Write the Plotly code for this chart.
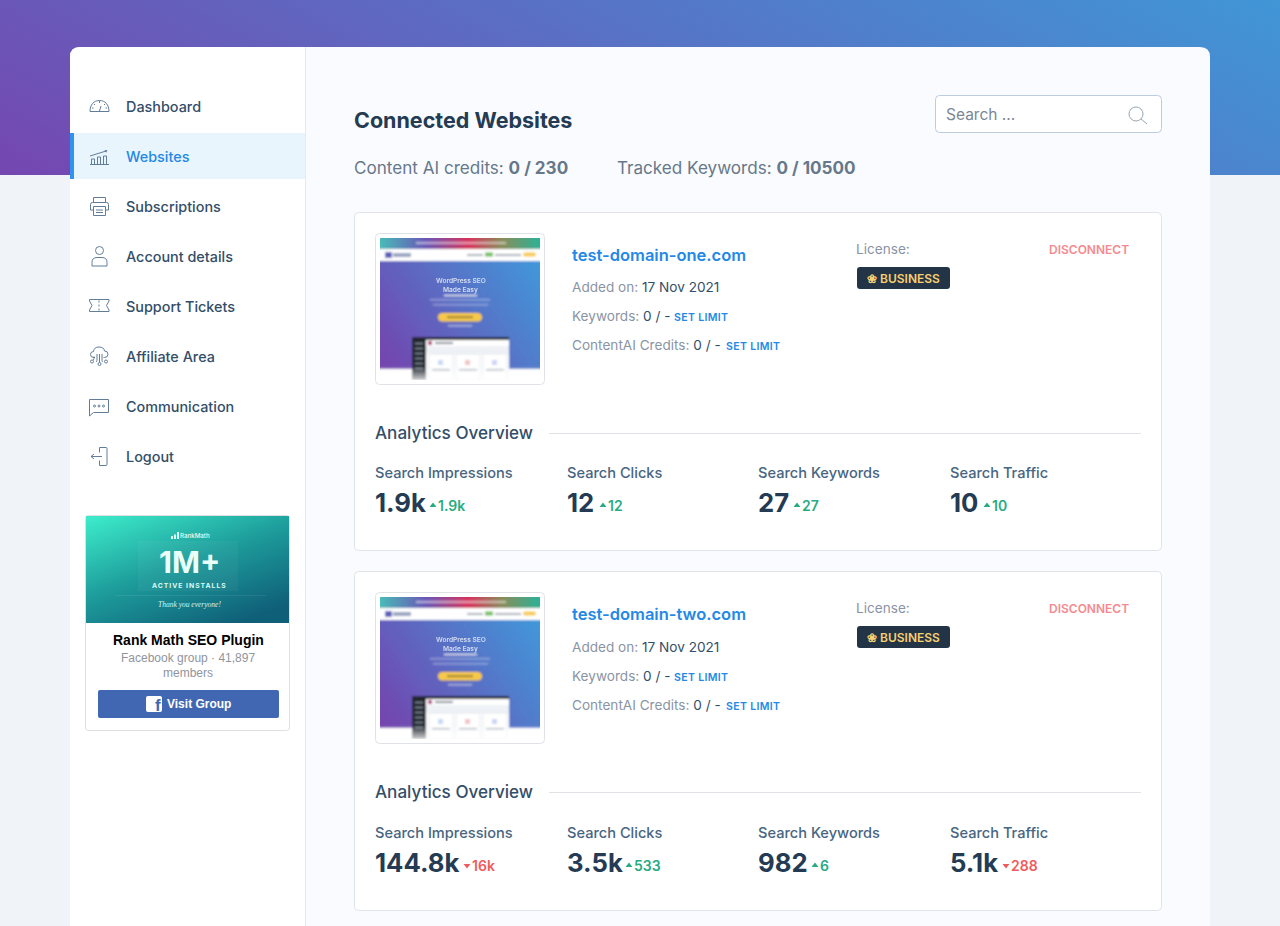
import base64
import plotly.graph_objects as go

# page text and numbers
MENU_LABELS = ["Dashboard", "Websites", "Subscriptions", "Account details",
               "Support Tickets", "Affiliate Area", "Communication", "Logout"]
ACTIVE_MENU = "Websites"
PAGE_TITLE = "Connected Websites"
CREDITS_LABELS = ["Content AI credits:", "Tracked Keywords:"]
CREDITS_VALUES = ["0 / 230", "0 / 10500"]
SITE_NAMES = ["test-domain-one.com", "test-domain-two.com"]
ADDED_ON = ["17 Nov 2021", "17 Nov 2021"]
KEYWORDS = ["0 / -", "0 / -"]
CONTENT_AI = ["0 / -", "0 / -"]
METRIC_LABELS = ["Search Impressions", "Search Clicks", "Search Keywords", "Search Traffic"]
SITE_VALUES = [["1.9k", "12", "27", "10"], ["144.8k", "3.5k", "982", "5.1k"]]
SITE_DELTAS = [["1.9k", "12", "27", "10"], ["16k", "533", "6", "288"]]
SITE_RISING = [[True, True, True, True], [False, True, True, False]]

FONT = "Inter"
NAVY = "#243b53"
SLATE = "#486581"
GREY = "#8a94a3"
BLUE = "#2388e6"
GREEN = "#27ab83"
RED = "#ef5b5b"
LINE = "#e0e4ea"
ICON = "#627d98"

fig = go.Figure()


def rounded(x0, y0, x1, y1, r):
    return (f"M{x0+r},{y0} L{x1-r},{y0} Q{x1},{y0} {x1},{y0+r} L{x1},{y1-r} Q{x1},{y1} {x1-r},{y1} "
            f"L{x0+r},{y1} Q{x0},{y1} {x0},{y1-r} L{x0},{y0+r} Q{x0},{y0} {x0+r},{y0} Z")


def box(x0, y0, x1, y1, fill, border=None, r=0, layer="below"):
    fig.add_shape(type="path", path=rounded(x0, y0, x1, y1, r) if r else f"M{x0},{y0} L{x1},{y0} L{x1},{y1} L{x0},{y1} Z",
                  xref="x", yref="y", fillcolor=fill, layer=layer,
                  line=dict(color=border, width=1) if border else dict(width=0))


def label(x, y, s, size, color, weight=400, anchor="left", family=FONT, opacity=1):
    fig.add_annotation(x=x, y=y, xref="x", yref="y", text=s, showarrow=False, xanchor=anchor,
                       yanchor="middle", borderpad=0, borderwidth=0, opacity=opacity,
                       font=dict(family=family, size=size, color=color, weight=weight))


def picture(body, x, y, w, h, layer="above"):
    svg = (f'<svg xmlns="http://www.w3.org/2000/svg" width="{w}" height="{h}" viewBox="0 0 {w} {h}">'
           f'{body}</svg>')
    uri = "data:image/svg+xml;base64," + base64.b64encode(svg.encode()).decode()
    fig.add_layout_image(source=uri, xref="x", yref="y", x=x, y=y, sizex=w, sizey=h,
                         xanchor="left", yanchor="top", sizing="stretch", layer=layer)


# page background, on paper so that it stays under the panel shapes
header = ('<svg xmlns="http://www.w3.org/2000/svg" width="1280" height="175" viewBox="0 0 1280 175">'
          '<defs><linearGradient id="g" gradientUnits="userSpaceOnUse" x1="0" y1="175" x2="370" y2="-499">'
          '<stop offset="0" stop-color="#7547b0"/><stop offset="1" stop-color="#4096d6"/></linearGradient></defs>'
          '<rect width="1280" height="175" fill="url(#g)"/></svg>')
fig.add_layout_image(source="data:image/svg+xml;base64," + base64.b64encode(header.encode()).decode(),
                     xref="paper", yref="paper", x=0, y=1, sizex=1, sizey=175 / 926,
                     xanchor="left", yanchor="top", sizing="stretch", layer="below")

# main panel and sidebar
box(70, 47, 1210, 1000, "#fafbfe", r=10)
fig.add_shape(type="path", path="M80,47 L305,47 L305,1000 L70,1000 L70,57 Q70,47 80,47 Z",
              xref="x", yref="y", fillcolor="#ffffff", line=dict(width=0), layer="below")
box(305, 47, 306, 1000, "#e6eaf0")

# sidebar menu
MENU_Y = [107 + 50 * i for i in range(len(MENU_LABELS))]
for name, y in zip(MENU_LABELS, MENU_Y):
    active = name == ACTIVE_MENU
    if active:
        box(70, y - 24, 305, y + 22, "#e8f5fd")
        box(70, y - 24, 74, y + 22, "#2e94f0")
    label(125.7, y - 0.5, name, 14.4, BLUE if active else "#334e68", 500)

# sidebar icons, one small drawing per menu row
st = f'fill="none" stroke="{ICON}" stroke-width="1"'
ICONS = [
    f'<g {st}><path d="M1 15.5C1 8.5 5 4.5 10.5 4.5S20 8.5 20 15.5Z"/><path d="M10.5 5v2M5 8l1 1M16 8l-1 1M3 12h1.5M18 12h-1.5M10.5 15l1.5-5"/></g>',
    f'<g {st}><path d="M1 18.5h19M2.5 18v-5h3v5M8.5 18v-7h3v7M14.5 18v-8h3v8M1 10l16-5"/></g><path d="M15.5 4l3 .3-1.4 2.4z" fill="{ICON}"/>',
    f'<g {st}><path d="M4.5 6.5V1.5h12v5M1.5 14V8.5q0-2 2-2h14q2 0 2 2V14h-3M4.5 14h-3M4.5 10.5h12V19.5h-12ZM7 14h7M7 16.5h7"/></g>',
    f'<g {st}><circle cx="10.5" cy="4.5" r="4"/><path d="M3 20v-3.5q0-5 5-5h5q5 0 5 5V20Z"/></g>',
    f'<g {st}><path d="M.5 3.5h19.5v1.5l-2.500 4.500 2.500 4.500v1.500H.5v-1.500l2.500-4.500-2.500-4.500ZM10 4.500v2M10 8.500v2M10 12.500v2"/></g>',
    f'<g {st}><path d="M5 11.500q-3.500 0-3.500-3t3-3q.5-4.500 5.500-4.500t5.500 4q3.500 0 3.500 3.200t-3.500 3.300h-1M5 11.500h1M8 8v6.500q0 1-1 1.500M10.500 8v8.500M13 8v6.500q0 1 1 1.500M5 10.500v2q0 1-1 1.500"/><circle cx="3" cy="15.500" r="1.500"/><circle cx="10.500" cy="18" r="1.500"/><circle cx="17" cy="15.500" r="1.500"/></g>',
    f'<g {st}><path d="M.5 3.500h19v13h-15l-4 3.500Z"/><circle cx="5.500" cy="10" r="1"/><circle cx="10" cy="10" r="1"/><circle cx="14.500" cy="10" r="1"/></g>',
    f'<g {st}><path d="M10.500 6.500V1.500h6.500q1 0 1 1v16q0 1-1 1h-6.500v-5M2 10.500h11M2 10.500l3-2.500M2 10.500l3 2.500"/></g>',
]
ICON_Y = [y - 11 for y in MENU_Y]
for art, y in zip(ICONS, ICON_Y):
    picture(art, 89, y, 21, 21)

# facebook box
box(85.5, 515.5, 289.5, 730.5, "#ffffff", "#dddfe2", r=3)
picture('<defs><linearGradient id="b" x1="0.05" y1="0" x2="0.75" y2="1">'
        '<stop offset="0" stop-color="#3ceac9"/><stop offset="0.5" stop-color="#1d9c9b"/>'
        '<stop offset="1" stop-color="#0f5f78"/></linearGradient></defs>'
        '<rect width="203" height="107" fill="url(#b)"/>'
        '<rect x="52" y="25" width="100" height="50" fill="#ffffff" opacity="0.04"/>'
        '<rect x="30" y="79" width="150" height="1" fill="#ffffff" opacity="0.08"/>', 86, 516, 203, 107)
label(195, 535.5, "RankMath", 6.2, "#e6fff8", 500, "center")
picture('<path d="M0 7V4h2v3zM3 7V2.500h2V7zM6 7V0h2v7z" fill="#d9fff5"/>', 171, 532, 8, 7)
label(189, 562, "1M+", 30, "#eafff9", 700, "center")
label(189, 585, "<span style='letter-spacing:1px'>ACTIVE INSTALLS</span>", 6.8, "#dcfbf3", 700, "center")
label(189, 604, "<i>Thank you everyone!</i>", 7.5, "#d6f3ee", 400, "center", "Liberation Serif")
label(188, 640, "Rank Math SEO Plugin", 14, "#000000", 700, "center", "Liberation Sans")
label(188, 658, "Facebook group · 41,897", 12, "#90949c", 400, "center", "Liberation Sans")
label(188, 673, "members", 12, "#90949c", 400, "center", "Liberation Sans")
box(98, 690, 279, 718, "#4267b2", r=2)
box(146, 696, 162, 712, "#ffffff", r=2)
label(157.5, 705.5, "f", 17, "#4267b2", 700, "center", "Liberation Sans")
label(166.5, 704, "Visit Group", 12, "#ffffff", 700, "left", "Liberation Sans")

# header of the content area
label(354, 119.5, PAGE_TITLE, 21.5, NAVY, 700)
box(935.5, 95.5, 1161.5, 132.5, "#ffffff", "#bcccdc", r=4)
label(946, 114, "Search ...", 15.5, "#7b8794")
picture('<circle cx="8" cy="8" r="7" fill="none" stroke="#9aa5b1"/><path d="M13 13l6 5" stroke="#9aa5b1" fill="none"/>',
        1128, 106, 20, 20)
for x, name, value in zip([354, 617], CREDITS_LABELS, CREDITS_VALUES):
    label(x, 167, f"{name} <b>{value}</b>", 17.1, "#66788a", 400)

# thumbnail of the landing page, blurred like the screenshot it stands for
THUMB = (
    '<defs><filter id="s" x="-5%" y="-5%" width="110%" height="110%"><feGaussianBlur stdDeviation="0.8"/></filter>'
    '<linearGradient id="t" x1="0" y1="0" x2="1" y2="0"><stop offset="0" stop-color="#45c4b8"/>'
    '<stop offset="0.3" stop-color="#6a56b6"/><stop offset="0.55" stop-color="#d8325c"/>'
    '<stop offset="0.75" stop-color="#8a8d5a"/><stop offset="1" stop-color="#22b59c"/></linearGradient>'
    '<linearGradient id="h" gradientUnits="userSpaceOnUse" x1="0" y1="131" x2="160" y2="23">'
    '<stop offset="0" stop-color="#7542ad"/><stop offset="1" stop-color="#4098da"/></linearGradient>'
    '<linearGradient id="f" x1="0" y1="0" x2="0" y2="1"><stop offset="0" stop-color="#ffffff" stop-opacity="0"/>'
    '<stop offset="1" stop-color="#ffffff"/></linearGradient></defs>'
    '<g filter="url(#s)"><rect x="-4" y="-4" width="168" height="150" fill="#ffffff"/>'
    '<rect x="-4" y="-4" width="168" height="15" fill="url(#t)"/>'
    '<rect x="36" y="4" width="90" height="2" fill="#ffffff" opacity="0.5"/>'
    '<rect x="5" y="14" width="7" height="6" fill="#5d5fbd"/><rect x="13" y="15" width="18" height="4" fill="#98a4c0"/>'
    '<rect x="87" y="16" width="16" height="2" fill="#a5adb9"/><rect x="105" y="14.500" width="8" height="4" fill="#6fbe5a"/>'
    '<rect x="115" y="16" width="26" height="2" fill="#a5adb9"/><rect x="143" y="14.500" width="13" height="4" rx="2" fill="#f7c948"/>'
    '<rect x="-4" y="23" width="168" height="108" fill="url(#h)"/>'
    '<rect x="64" y="57" width="33" height="1" fill="#ffffff"/>'
    '<rect x="50" y="61" width="60" height="1.500" fill="#ffffff" opacity="0.35"/>'
    '<rect x="53" y="66" width="55" height="1.500" fill="#ffffff" opacity="0.35"/>'
    '<rect x="58" y="75" width="44" height="8.500" rx="4.200" fill="#f7c948"/>'
    '<rect x="67" y="78.500" width="26" height="1.500" fill="#7a6530"/>'
    '<rect x="68" y="87" width="24" height="1.500" fill="#ffffff" opacity="0.5"/>'
    '<rect x="32" y="99" width="97" height="43" fill="#ffffff"/>'
    '<rect x="32" y="99" width="14" height="43" fill="#20262e"/>'
    '<rect x="32" y="99" width="97" height="3" fill="#20262e"/>'
    '<rect x="35" y="105" width="8" height="1" fill="#8a94a3"/><rect x="35" y="110" width="8" height="1" fill="#8a94a3"/>'
    '<rect x="35" y="115" width="8" height="1" fill="#8a94a3"/><rect x="35" y="120" width="8" height="1" fill="#8a94a3"/>'
    '<rect x="35" y="125" width="8" height="1" fill="#8a94a3"/><rect x="35" y="130" width="8" height="1" fill="#8a94a3"/>'
    '<rect x="48" y="103" width="4" height="4" fill="#b03a7a"/><rect x="55" y="104" width="18" height="2" fill="#7b8794"/>'
    '<rect x="46" y="108" width="83" height="8" fill="#eef1f5"/>'
    '<rect x="49" y="116" width="24" height="26" fill="#ffffff" stroke="#e3e7ec"/>'
    '<rect x="76" y="116" width="24" height="26" fill="#ffffff" stroke="#e3e7ec"/>'
    '<rect x="103" y="116" width="24" height="26" fill="#ffffff" stroke="#e3e7ec"/>'
    '<rect x="58" y="122" width="5" height="5" fill="#c6daf5"/><rect x="85" y="122" width="5" height="5" fill="#f2c4c4"/>'
    '<rect x="112" y="122" width="5" height="5" fill="#cdd4f5"/>'
    '<rect x="52" y="131" width="18" height="1.500" fill="#a0a8b4"/><rect x="79" y="131" width="18" height="1.500" fill="#a0a8b4"/>'
    '<rect x="106" y="131" width="18" height="1.500" fill="#a0a8b4"/>'
    '<rect x="-4" y="128" width="168" height="18" fill="url(#f)"/></g>'
)

# site cards
METRIC_X = [375, 566.7, 758, 950]
VALUE_END = [[425, 595, 789, 979], [459, 621, 807, 998]]
up_x, up_y, down_x, down_y = [], [], [], []
for i, top in enumerate([212, 571]):
    shift = 1 if i else 0  # the second card sits a pixel lower for the text rows
    box(354.5, top + 0.5, 1161.5, top + 338.5 + shift, "#ffffff", LINE, r=4)
    box(375.5, top + 21.5, 544.5, top + 172.5, "#ffffff", "#dfe3e8", r=4)
    picture(THUMB, 380, top + 26, 160, 142)
    label(460.5, top + 68.5, "WordPress SEO", 6.6, "#f2f4fb", 600, "center", opacity=0.8)
    label(460.5, top + 78, "Made Easy", 6.6, "#f2f4fb", 600, "center", opacity=0.8)

    label(572, top + 43, SITE_NAMES[i], 16.5, BLUE, 600)
    label(572, top + 74.5 + shift, f"Added on: <span style='color:#334e68'>{ADDED_ON[i]}</span>", 13.6, GREY)
    label(572, top + 103.5 + shift, f"Keywords: <span style='color:#334e68'>{KEYWORDS[i]}</span>", 13.6, GREY)
    label(572, top + 132.5 + shift, f"ContentAI Credits: <span style='color:#334e68'>{CONTENT_AI[i]}</span>", 13.6, GREY)
    label(674, top + 105 + shift, "<span style='letter-spacing:0.35px'>SET LIMIT</span>", 10.5, BLUE, 600)
    label(726, top + 134 + shift, "<span style='letter-spacing:0.35px'>SET LIMIT</span>", 10.5, BLUE, 600)

    label(856, top + 36.5, "License:", 13.6, GREY)
    label(1129, top + 37.5, "DISCONNECT", 12, "#f58a8f", 600, "right")
    box(857, top + 55, 950, top + 77, "#243447", r=3)
    label(866.5, top + 66, "❀ BUSINESS", 12, "#f7d070", 600)

    label(375, top + 220.3, "Analytics Overview", 17.1, "#334e68", 500)
    box(549, top + 221, 1141, top + 222, "#dfe3e8")

    for j, metric in enumerate(METRIC_LABELS):
        label(METRIC_X[j], top + 260.5 + shift, metric, 14.6, SLATE, 500)
        label(METRIC_X[j], top + 290.5 + shift, SITE_VALUES[i][j], 25.7, NAVY, 700)
        tip = VALUE_END[i][j] + 8
        rising = SITE_RISING[i][j]
        if rising:
            up_x.append(tip)
            up_y.append(top + 293.5 + shift)
        else:
            down_x.append(tip)
            down_y.append(top + 293.5 + shift)
        label(tip + 5, top + 293.5 + shift, SITE_DELTAS[i][j], 14, GREEN if rising else RED, 600)

fig.add_trace(go.Scatter(x=up_x, y=up_y, mode="markers", hoverinfo="skip",
                         marker=dict(symbol="triangle-up", size=6, color=GREEN)))
fig.add_trace(go.Scatter(x=down_x, y=down_y, mode="markers", hoverinfo="skip",
                         marker=dict(symbol="triangle-down", size=6, color=RED)))

fig.update_xaxes(range=[0, 1280], visible=False, fixedrange=True)
fig.update_yaxes(range=[926, 0], visible=False, fixedrange=True)
fig.update_layout(width=1280, height=926, margin=dict(l=0, r=0, t=0, b=0), showlegend=False,
                  paper_bgcolor="#f0f4f8", plot_bgcolor="rgba(0,0,0,0)")

fig.write_html("out.html", config=dict(displayModeBar=False),
               post_script="document.body.style.margin='0';document.body.style.overflow='hidden';")
